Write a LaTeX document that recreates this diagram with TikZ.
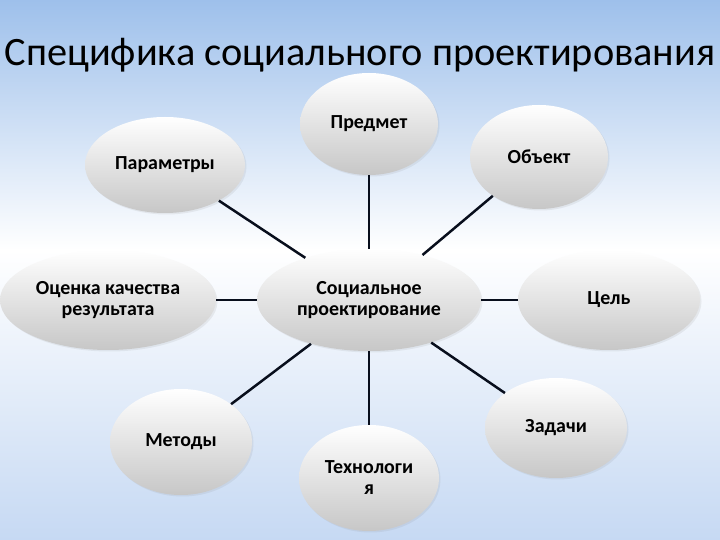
\documentclass[tikz,border=0pt]{standalone}
\usepackage{fontspec}
\setmainfont{Carlito}
\usetikzlibrary{shapes.geometric,shadows}
\definecolor{skytop}{RGB}{158,192,235}
\definecolor{skybot}{RGB}{198,217,243}
\definecolor{linecol}{RGB}{8,14,28}

\begin{document}
\begin{tikzpicture}[line join=bevel,
  bubble/.style={ellipse,inner sep=0pt,top color=white,bottom color=black!22,
    drop shadow={opacity=0.12,shadow xshift=1.5pt,shadow yshift=-1.5pt},
    font=\fontsize{20}{21}\selectfont\bfseries,align=center},
  spoke/.style={draw=linecol,line width=2.5pt}]
%
  \fill [top color=skytop,bottom color=white] (0bp,290bp) rectangle (720bp,540bp);
  \fill [top color=white,bottom color=skybot] (0bp,0bp) rectangle (720bp,290bp);
  \useasboundingbox (0bp,0bp) rectangle (720bp,540bp);
  \node (title) at (360bp,474bp) [anchor=base] {\fontsize{40.5}{44}\selectfont Специфика социального проектирования};
  \node (soc) at (369bp,240bp) [bubble,minimum width=224bp,minimum height=102bp] {Социальное\\проектирование};
  \node (pred) at (369bp,416bp) [bubble,minimum width=138bp,minimum height=102bp] {Предмет};
  \node (obj) at (539bp,383bp) [bubble,minimum width=138bp,minimum height=104bp] {Объект};
  \node (param) at (165bp,375bp) [bubble,minimum width=160bp,minimum height=96bp] {Параметры};
  \node (ocen) at (108bp,240bp) [bubble,minimum width=216bp,minimum height=100bp] {Оценка качества\\результата};
  \node (cel) at (609bp,240bp) [bubble,minimum width=182bp,minimum height=100bp] {Цель};
  \node (met) at (181bp,98bp) [bubble,minimum width=142bp,minimum height=106bp] {Методы};
  \node (tech) at (369bp,62bp) [bubble,minimum width=140bp,minimum height=106bp] {Технологи\\я};
  \node (zad) at (556bp,112bp) [bubble,minimum width=142bp,minimum height=100bp] {Задачи};
  \draw [spoke] (pred) -- (soc);
  \draw [spoke] (obj) -- (soc);
  \draw [spoke] (param) -- (soc);
  \draw [spoke] (ocen) -- (soc);
  \draw [spoke] (cel) -- (soc);
  \draw [spoke] (met) -- (soc);
  \draw [spoke] (tech) -- (soc);
  \draw [spoke] (zad) -- (soc);
%
\end{tikzpicture}
\end{document}
